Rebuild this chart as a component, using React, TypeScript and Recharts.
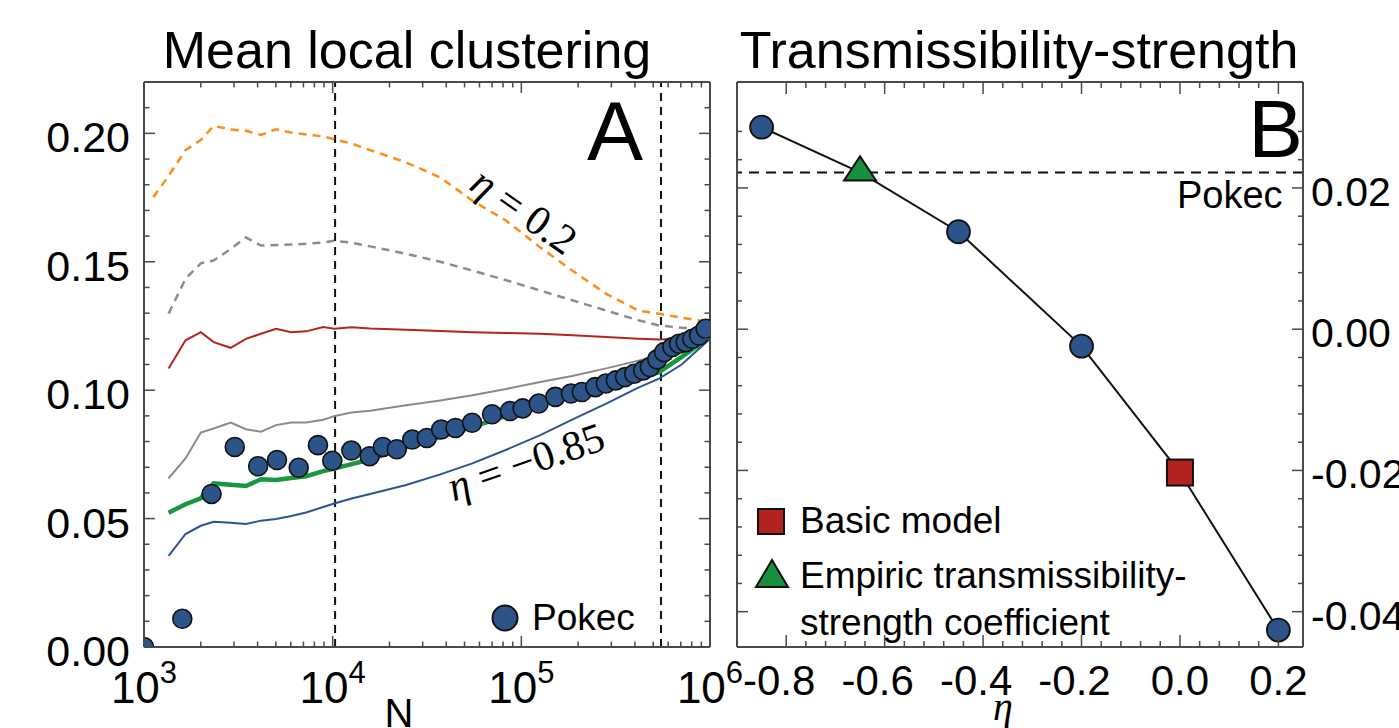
import React from 'react';
import { ComposedChart, Line, XAxis, YAxis, ReferenceLine } from 'recharts';

const SANS = '"Liberation Sans", Arial, Helvetica, sans-serif';
const SERIF = '"Liberation Serif", "Times New Roman", serif';

// ---- panel A: mean local clustering vs N ----
const simN = [1350, 1660, 2000, 2340, 2880, 3470, 4170, 5010, 6030, 7240, 8910, 10200, 12600, 15800, 24500, 37200, 55000, 83200, 126000, 186000, 282000, 417000, 537000, 708000, 1000000];
const orangeN = [1120, ...simN];
const orangeC = [0.1751, 0.1835, 0.1935, 0.1974, 0.2029, 0.2015, 0.201, 0.1994, 0.2016, 0.2003, 0.1996, 0.1988, 0.1977, 0.196, 0.1935, 0.1887, 0.1828, 0.1738, 0.166, 0.1556, 0.1466, 0.1375, 0.131, 0.1298, 0.1282, 0.1265];
const grayDashC = [0.1298, 0.1434, 0.1494, 0.1505, 0.155, 0.1595, 0.1563, 0.1565, 0.1567, 0.157, 0.1575, 0.1582, 0.1574, 0.156, 0.1531, 0.15, 0.1466, 0.1428, 0.1388, 0.135, 0.131, 0.1272, 0.1252, 0.1243, 0.1239];
const redC = [0.1084, 0.1194, 0.1226, 0.1187, 0.1165, 0.12, 0.122, 0.1239, 0.1226, 0.1229, 0.1246, 0.1239, 0.1245, 0.124, 0.1235, 0.123, 0.1226, 0.1223, 0.122, 0.1214, 0.1207, 0.12, 0.1197, 0.12, 0.1233];
const graySolidC = [0.0657, 0.0734, 0.0835, 0.0851, 0.0874, 0.0848, 0.0838, 0.0864, 0.0874, 0.0874, 0.0885, 0.0899, 0.0913, 0.092, 0.0941, 0.096, 0.098, 0.1005, 0.1032, 0.1055, 0.1085, 0.1115, 0.1136, 0.117, 0.1213];
const greenC = [0.0523, 0.0556, 0.0579, 0.0637, 0.0632, 0.0627, 0.0653, 0.065, 0.0658, 0.0665, 0.0685, 0.0695, 0.0712, 0.073, 0.0779, 0.0818, 0.0857, 0.09, 0.0948, 0.0987, 0.1026, 0.1045, 0.107, 0.113, 0.1207];
const blueC = [0.0355, 0.044, 0.0472, 0.0488, 0.0484, 0.0479, 0.0492, 0.0498, 0.051, 0.0524, 0.0545, 0.0559, 0.0578, 0.0596, 0.0631, 0.0672, 0.0715, 0.0768, 0.0825, 0.0885, 0.0948, 0.101, 0.1045, 0.11, 0.12];

const pokecN = [1000, 1596, 2280, 3027, 4027, 5070, 6607, 8356, 9954, 12560, 15700, 18450, 21880, 26420, 31550, 37580, 44770, 54830, 69980, 87100, 101600, 123600, 151400, 183200, 209400, 246600, 280500, 317000, 354800, 396300, 442600, 480000, 525000, 571000, 632000, 685000, 743000, 805000, 875000, 948000];
const pokecC = [0.0, 0.011, 0.0596, 0.0779, 0.0704, 0.0728, 0.0698, 0.0786, 0.0725, 0.0765, 0.0743, 0.0779, 0.077, 0.0808, 0.0814, 0.0847, 0.0853, 0.0873, 0.0906, 0.0919, 0.0929, 0.0948, 0.0974, 0.0987, 0.0993, 0.1012, 0.1026, 0.1038, 0.1051, 0.1064, 0.1077, 0.109, 0.112, 0.1148, 0.1168, 0.1181, 0.1187, 0.12, 0.1213, 0.1239];

const sizeMarkers = [10300, 550000];

const nTicks = [1000, 2000, 3000, 4000, 5000, 6000, 7000, 8000, 9000, 10000, 20000, 30000, 40000, 50000, 60000, 70000, 80000, 90000, 100000, 200000, 300000, 400000, 500000, 600000, 700000, 800000, 900000, 1000000];
const nMajors = [1000, 10000, 100000, 1000000];
const cTicks = [0, 0.01, 0.02, 0.03, 0.04, 0.05, 0.06, 0.07, 0.08, 0.09, 0.1, 0.11, 0.12, 0.13, 0.14, 0.15, 0.16, 0.17, 0.18, 0.19, 0.2, 0.21];
const cMajors = [0, 0.05, 0.1, 0.15, 0.2];

// ---- panel B: transmissibility-strength vs eta ----
const etaVals = [-0.85, -0.65, -0.45, -0.2, 0.0, 0.2];
const trsVals = [0.0286, 0.0222, 0.0138, -0.0024, -0.0203, -0.0426];
const markerKinds = ['circle', 'triangle', 'circle', 'circle', 'square', 'circle'];
const pokecTrs = 0.0222;

const etaTicks = [-0.8, -0.76, -0.72, -0.68, -0.64, -0.6, -0.56, -0.52, -0.48, -0.44, -0.4, -0.36, -0.32, -0.28, -0.24, -0.2, -0.16, -0.12, -0.08, -0.04, 0, 0.04, 0.08, 0.12, 0.16, 0.2];
const etaMajors = [-0.8, -0.6, -0.4, -0.2, 0, 0.2];
const trsTicks = [-0.04, -0.036, -0.032, -0.028, -0.024, -0.02, -0.016, -0.012, -0.008, -0.004, 0, 0.004, 0.008, 0.012, 0.016, 0.02, 0.024, 0.028];
const trsMajors = [-0.04, -0.02, 0, 0.02];

const BLUE_DOT = '#2c5488';
const FRAME = '#4a4a4a';

const pts = (xs: number[], ys: number[]) => xs.map((n, i) => ({ n, v: ys[i] }));

const near = (a: number, b: number) => Math.abs(a - b) <= 1e-7 * Math.max(1, Math.abs(b));

type Side = 'left' | 'right' | 'top' | 'bottom';
const makeTick = (side: Side, majors: number[], big: number, small: number, label?: (v: number, x: number, y: number) => React.ReactNode) =>
  (props: any) => {
    const { x, y, payload } = props;
    const v = payload.value;
    const isMajor = majors.some((m) => near(v, m));
    const len = isMajor ? big : small;
    let x2 = x;
    let y2 = y;
    if (side === 'left') x2 = x + len;
    if (side === 'right') x2 = x - len;
    if (side === 'top') y2 = y + len;
    if (side === 'bottom') y2 = y - len;
    return (
      <g>
        <line x1={x} y1={y} x2={x2} y2={y2} stroke={FRAME} strokeWidth={1.5} />
        {isMajor && label ? label(v, x, y) : null}
      </g>
    );
  };

const nLabel = (v: number, x: number, y: number) => (
  <text x={x} y={y + 56} textAnchor="middle" fontFamily={SANS} fontSize={44} fill="#000">
    <tspan>10</tspan>
    <tspan dy={-20} fontSize={31}>{Math.round(Math.log10(v))}</tspan>
  </text>
);
const cLabel = (v: number, x: number, y: number) => (
  <text x={x - 14} y={y + 19} textAnchor="end" fontFamily={SANS} fontSize={43} fill="#000">
    {v.toFixed(2)}
  </text>
);
const etaLabel = (v: number, x: number, y: number) => (
  <text x={x + (v < -1e-9 ? -7 : 0)} y={y + 48} textAnchor="middle" fontFamily={SANS} fontSize={42} fill="#000">
    {(Math.abs(v) < 1e-9 ? 0 : v).toFixed(1)}
  </text>
);
const trsLabel = (v: number, x: number, y: number) => (
  <text x={x + 8} y={y + 18} textAnchor="start" fontFamily={SANS} fontSize={41} fill="#000">
    {(Math.abs(v) < 1e-9 ? 0 : v).toFixed(2)}
  </text>
);

const markerDot = (props: any) => {
  const { cx, cy, payload, index } = props;
  if (cx == null || cy == null) return <g key={`m${index}`} />;
  if (payload.kind === 'square') {
    return <rect key={`m${index}`} x={cx - 13} y={cy - 13} width={26} height={26} fill="#b2231f" stroke="#111" strokeWidth={2} />;
  }
  if (payload.kind === 'triangle') {
    return (
      <polygon
        key={`m${index}`}
        points={`${cx},${cy - 16} ${cx - 16},${cy + 8} ${cx + 16},${cy + 8}`}
        fill="#178f3c"
        stroke="#111"
        strokeWidth={2}
      />
    );
  }
  return <circle key={`m${index}`} cx={cx} cy={cy} r={11.5} fill={BLUE_DOT} stroke="#111" strokeWidth={1.8} />;
};

const axisLine = { stroke: FRAME, strokeWidth: 2 };

// axes get 1px of room each (a zero-sized axis is not drawn); margins are reduced to match.
// panel A is wider than its half so that the 10^6 label is not cut off.
const ClusteringPanel = () => (
  <ComposedChart width={760} height={728} margin={{ top: 81, right: 49, bottom: 80, left: 143 }}>
    <XAxis xAxisId="b" dataKey="n" type="number" scale="log" domain={[1000, 1000000]} allowDataOverflow ticks={nTicks} interval={0}
      height={1} tickSize={0} tickMargin={0} tickLine={false} axisLine={axisLine} tick={makeTick('bottom', nMajors, 11, 5.5, nLabel)} />
    <XAxis xAxisId="t" orientation="top" dataKey="n" type="number" scale="log" domain={[1000, 1000000]} allowDataOverflow ticks={nTicks} interval={0}
      height={1} tickSize={0} tickMargin={0} tickLine={false} axisLine={axisLine} tick={makeTick('top', nMajors, 11, 5.5)} />
    <YAxis yAxisId="l" dataKey="v" type="number" domain={[0, 0.22]} allowDataOverflow ticks={cTicks} interval={0}
      width={1} tickSize={0} tickMargin={0} tickLine={false} axisLine={axisLine} tick={makeTick('left', cMajors, 11, 5.5, cLabel)} />
    <YAxis yAxisId="r" orientation="right" dataKey="v" type="number" domain={[0, 0.22]} allowDataOverflow ticks={cTicks} interval={0}
      width={1} tickSize={0} tickMargin={0} tickLine={false} axisLine={axisLine} tick={makeTick('right', cMajors, 11, 5.5)} />

    {sizeMarkers.map((n) => (
      <ReferenceLine key={n} xAxisId="b" yAxisId="l" x={n} stroke="#111" strokeWidth={2} strokeDasharray="8 6" />
    ))}

    <Line xAxisId="b" yAxisId="l" data={pts(pokecN, pokecC)} dataKey="v" stroke="none" isAnimationActive={false} activeDot={false}
      dot={{ r: 9.5, fill: BLUE_DOT, stroke: '#111', strokeWidth: 1.6 }} />
    <Line xAxisId="b" yAxisId="l" data={pts(orangeN, orangeC)} dataKey="v" stroke="#ff8c1a" strokeWidth={2.5} strokeDasharray="8 6" dot={false} isAnimationActive={false} />
    <Line xAxisId="b" yAxisId="l" data={pts(simN, grayDashC)} dataKey="v" stroke="#8c8c8c" strokeWidth={2.5} strokeDasharray="8 6" dot={false} isAnimationActive={false} />
    <Line xAxisId="b" yAxisId="l" data={pts(simN, redC)} dataKey="v" stroke="#b3261e" strokeWidth={2} dot={false} isAnimationActive={false} />
    <Line xAxisId="b" yAxisId="l" data={pts(simN, graySolidC)} dataKey="v" stroke="#8a8a8a" strokeWidth={2} dot={false} isAnimationActive={false} />
    <Line xAxisId="b" yAxisId="l" data={pts(simN, greenC)} dataKey="v" stroke="#18973f" strokeWidth={4.5} dot={false} isAnimationActive={false} />
    <Line xAxisId="b" yAxisId="l" data={pts(simN, blueC)} dataKey="v" stroke="#2a5590" strokeWidth={2} dot={false} isAnimationActive={false} />
  </ComposedChart>
);

const trsData = etaVals.map((eta, i) => ({ eta, trs: trsVals[i], kind: markerKinds[i] }));

const StrengthPanel = () => (
  <ComposedChart width={679} height={728} margin={{ top: 81, right: 95, bottom: 80, left: 16 }}>
    <XAxis xAxisId="b" dataKey="eta" type="number" domain={[-0.9, 0.25]} allowDataOverflow ticks={etaTicks} interval={0}
      height={1} tickSize={0} tickMargin={0} tickLine={false} axisLine={axisLine} tick={makeTick('bottom', etaMajors, 12, 6, etaLabel)} />
    <XAxis xAxisId="t" orientation="top" dataKey="eta" type="number" domain={[-0.9, 0.25]} allowDataOverflow ticks={etaTicks} interval={0}
      height={1} tickSize={0} tickMargin={0} tickLine={false} axisLine={axisLine} tick={makeTick('top', etaMajors, 12, 6)} />
    <YAxis yAxisId="r" orientation="right" dataKey="trs" type="number" domain={[-0.045, 0.035]} allowDataOverflow ticks={trsTicks} interval={0}
      width={1} tickSize={0} tickMargin={0} tickLine={false} axisLine={axisLine} tick={makeTick('right', trsMajors, 11, 5, trsLabel)} />
    <YAxis yAxisId="l" dataKey="trs" type="number" domain={[-0.045, 0.035]} allowDataOverflow ticks={trsTicks} interval={0}
      width={1} tickSize={0} tickMargin={0} tickLine={false} axisLine={axisLine} tick={makeTick('left', trsMajors, 11, 5)} />

    <ReferenceLine xAxisId="b" yAxisId="r" y={pokecTrs} stroke="#111" strokeWidth={2} strokeDasharray="10 7" />
    <Line xAxisId="b" yAxisId="r" data={trsData} dataKey="trs" stroke="#111" strokeWidth={2} dot={markerDot} activeDot={false} isAnimationActive={false} />
  </ComposedChart>
);

// titles, panel letters, annotations and legends
const Overlay = () => (
  <svg width={1399} height={728} style={{ position: 'absolute', left: 0, top: 0, pointerEvents: 'none' }}>
    <text x={407} y={68} textAnchor="middle" fontFamily={SANS} fontSize={52}>Mean local clustering</text>
    <text x={1019} y={68} textAnchor="middle" fontFamily={SANS} fontSize={52}>Transmissibility-strength</text>
    <text x={587} y={160} fontFamily={SANS} fontSize={84}>A</text>
    <text x={1303} y={157} textAnchor="end" fontFamily={SANS} fontSize={82}>B</text>

    <text transform="translate(524,211) rotate(35)" textAnchor="middle" dy="0.33em" fontFamily={SERIF} fontSize={42}>
      <tspan fontStyle="italic">η</tspan> = 0.2
    </text>
    <text transform="translate(526,462) rotate(-19)" textAnchor="middle" dy="0.33em" fontFamily={SERIF} fontSize={42}>
      <tspan fontStyle="italic">η</tspan> = −0.85
    </text>

    <circle cx={505} cy={618} r={12.5} fill={BLUE_DOT} stroke="#111" strokeWidth={2} />
    <text x={532} y={630} fontFamily={SANS} fontSize={37}>Pokec</text>

    <text x={1177} y={208} fontFamily={SANS} fontSize={38}>Pokec</text>
    <rect x={758} y={509} width={26} height={25} fill="#b2231f" stroke="#111" strokeWidth={2} />
    <text x={800} y={533} fontFamily={SANS} fontSize={37}>Basic model</text>
    <polygon points="772,560 756,587 788,587" fill="#178f3c" stroke="#111" strokeWidth={2} />
    <text x={800} y={588} fontFamily={SANS} fontSize={37}>Empiric transmissibility-</text>
    <text x={800} y={635} fontFamily={SANS} fontSize={37}>strength coefficient</text>

    <text x={399} y={727} textAnchor="middle" fontFamily={SANS} fontSize={40}>N</text>
    <text x={1003} y={720} textAnchor="middle" fontFamily={SERIF} fontStyle="italic" fontSize={40}>η</text>
  </svg>
);

export default function App() {
  return (
    <div style={{ position: 'absolute', left: 0, top: 0, width: 1399, height: 728, overflow: 'hidden', background: '#fff' }}>
      <div style={{ position: 'absolute', left: 0, top: 0 }}>
        <ClusteringPanel />
      </div>
      <div style={{ position: 'absolute', left: 720, top: 0 }}>
        <StrengthPanel />
      </div>
      <Overlay />
    </div>
  );
}
